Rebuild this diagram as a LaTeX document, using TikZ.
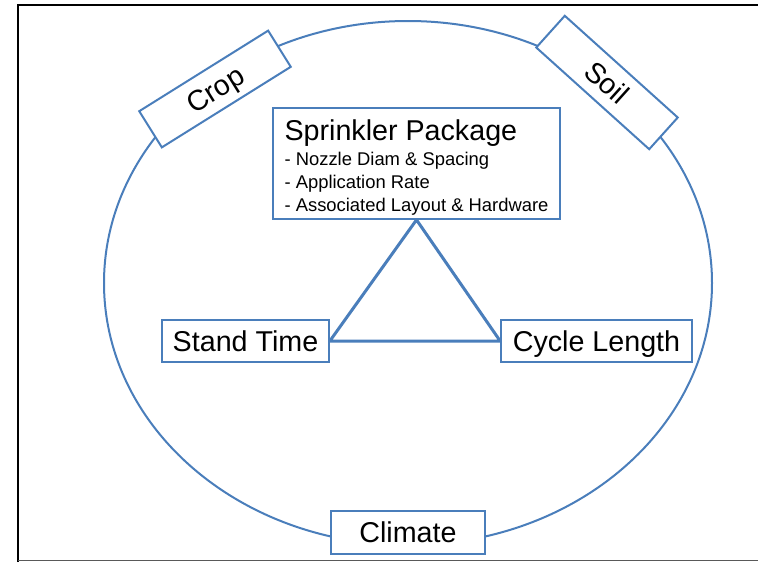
\documentclass[tikz,border=0pt]{standalone}
\usepackage{fontspec}
\setmainfont{Liberation Sans}
\definecolor{lineblue}{RGB}{74,126,187}
\newcommand{\boxfont}{\fontsize{21.5}{25}\selectfont}
\newcommand{\listfont}{\fontsize{13.8}{17.25}\selectfont}

\begin{document}
\begin{tikzpicture}[x=0.75pt, y=-0.75pt,
		box/.style={draw=lineblue, line width=1.5pt, fill=white, inner sep=0pt, text centered, 
		text height=17.7pt, text depth=2.3pt, font=\boxfont},
		ring/.style={draw=lineblue, line width=1.5pt},
		tri/.style={draw=lineblue, line width=2.25pt, line join=round}]
		
		\useasboundingbox (0,0) rectangle (758,562);
		
		%Frame
		\draw[line width=1.5pt] (17.5,562) -- (17.5,4.5) -- (758,4.5);
		\draw[line width=0.75pt, black!65] (17.5,560.5) -- (758,560.5);
		
		%Field
		\draw[ring] (408,283) ellipse [x radius=304, y radius=262];
		
		%Nodes on the field
		\node (crop) at (215,89) [box, rotate=32, minimum width=114pt, minimum height=32pt]{Crop};
		
		\node (soil) at (607,82.5) [box, rotate=-42, minimum width=114pt, minimum height=32pt]{Soil};
		
		\node (climate) at (408,532.5) [box, minimum width=115pt, minimum height=32pt]{Climate};
		
		%Nodes of the triangle
		\node (sprinkler) at (416.5,163.5) [box, font=\listfont, text height=72pt, text depth=0pt, 
		minimum width=215pt, minimum height=83pt, align=left]{{\boxfont Sprinkler Package}\\[1.5pt]
		- Nozzle Diam \& Spacing\\ - Application Rate\\ - Associated Layout \& Hardware};
		
		\node (stand) at (245.5,341) [box, minimum width=125pt, minimum height=31.5pt]{Stand Time};
		
		\node (cycle) at (596.5,341) [box, minimum width=143pt, minimum height=31.5pt]{Cycle Length};
		
		%Links
		\draw[tri] (sprinkler.south) -- (stand.east) -- (cycle.west) -- cycle;
		
\end{tikzpicture}
\end{document}
